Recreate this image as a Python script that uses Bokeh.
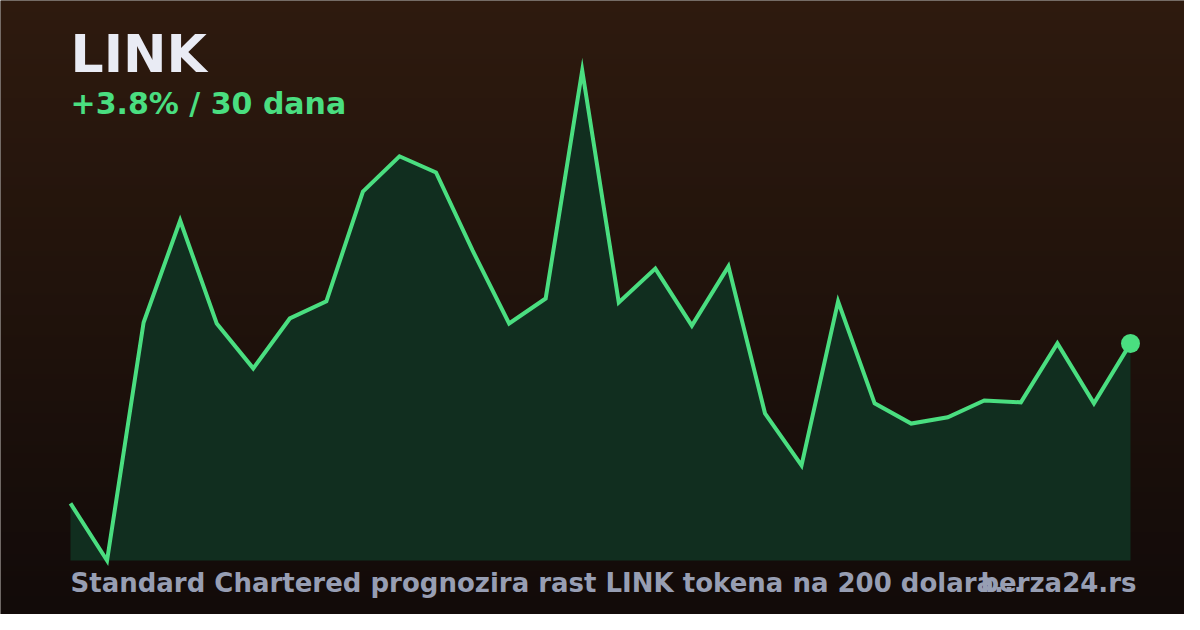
import numpy as np
from bokeh.plotting import figure
from bokeh.models import Range1d, ColumnDataSource
from bokeh.core.properties import value
from bokeh.embed import file_html
from bokeh.resources import INLINE

# ---- data ----
days = list(range(30))
prices = [13.500, 13.317, 14.080, 14.407, 14.077, 13.933, 14.093, 14.148, 14.500, 14.613,
          14.561, 14.311, 14.077, 14.157, 14.888, 14.144, 14.253, 14.070, 14.260, 13.789,
          13.622, 14.148, 13.821, 13.756, 13.776, 13.830, 13.824, 14.013, 13.821, 14.013]
title_text = "LINK"
change_text = "+3.8% / 30 dana"
footer_text = "Standard Chartered prognozira rast LINK tokena na 200 dolara..."
brand_text = "berza24.rs"

# ---- layout (pixels inside the figure) ----
W, H = 1184, 614
PX_LEFT, PX_RIGHT = 70, 1130
PY_TOP, PY_BOTTOM = 70, 560

n = len(prices)
step = (PX_RIGHT - PX_LEFT) / (n - 1)
vmin, vmax = min(prices), max(prices)
spp = (vmax - vmin) / (PY_BOTTOM - PY_TOP)

def fx(px):
    return days[0] + (px - PX_LEFT) / step

def fy(py):
    return vmin + (PY_BOTTOM - py) * spp

x0, x1 = fx(0), fx(W)
y0, y1 = fy(H), fy(0)

p = figure(width=W, height=H, output_backend="svg", toolbar_location=None,
           x_range=Range1d(x0, x1), y_range=Range1d(y0, y1),
           x_axis_location=None, y_axis_location=None,
           min_border=0, min_border_left=0, min_border_right=0,
           min_border_top=0, min_border_bottom=0)
p.outline_line_color = None
p.grid.visible = False
p.background_fill_color = "#1f120c"
p.border_fill_color = "#1f120c"

# background vertical gradient (extends to the 630px reference height)
top = np.array([0x2e, 0x1a, 0x0e])
bot = np.array([0x11, 0x0a, 0x09])
rows = 256
img = np.empty((rows, 1), dtype=np.uint32)
view = img.view(dtype=np.uint8).reshape((rows, 1, 4))
yb = fy(630)
for r in range(rows):
    t = r / (rows - 1)  # 0 bottom -> 1 top
    c = bot + (top - bot) * t
    view[r, 0, 0] = int(round(c[0]))
    view[r, 0, 1] = int(round(c[1]))
    view[r, 0, 2] = int(round(c[2]))
    view[r, 0, 3] = 255
p.image_rgba(image=[img], x=x0, y=yb, dw=fx(1200) - x0, dh=y1 - yb)

src = ColumnDataSource(dict(x=days, y=prices, base=[vmin] * n))
p.varea(x="x", y1="base", y2="y", source=src, fill_color="#112e1f", fill_alpha=1.0)
p.line(x="x", y="y", source=src, line_color="#4ade80", line_width=4, line_join="miter")
p.scatter(x=[days[-1]], y=[prices[-1]], size=19, fill_color="#4ade80", line_color=None)

font = value("DejaVu Sans")
p.text(x=[fx(70)], y=[fy(53)], text=[title_text], text_font=font, text_font_style="bold",
       text_font_size="52px", text_color="#e9ebf4", text_baseline="alphabetic", text_align="left")
p.text(x=[fx(70)], y=[fy(103)], text=[change_text], text_font=font, text_font_style="bold",
       text_font_size="30px", text_color="#4ade80", text_baseline="alphabetic", text_align="left")
p.text(x=[fx(70)], y=[fy(582.5)], text=[footer_text], text_font=font, text_font_style="bold",
       text_font_size="26px", text_color="#979eb3", text_baseline="alphabetic", text_align="left")
p.text(x=[fx(1136)], y=[fy(582.5)], text=[brand_text], text_font=font, text_font_style="bold",
       text_font_size="26px", text_color="#979eb3", text_baseline="alphabetic", text_align="right")

open("out.html", "w").write(file_html(p, INLINE))
